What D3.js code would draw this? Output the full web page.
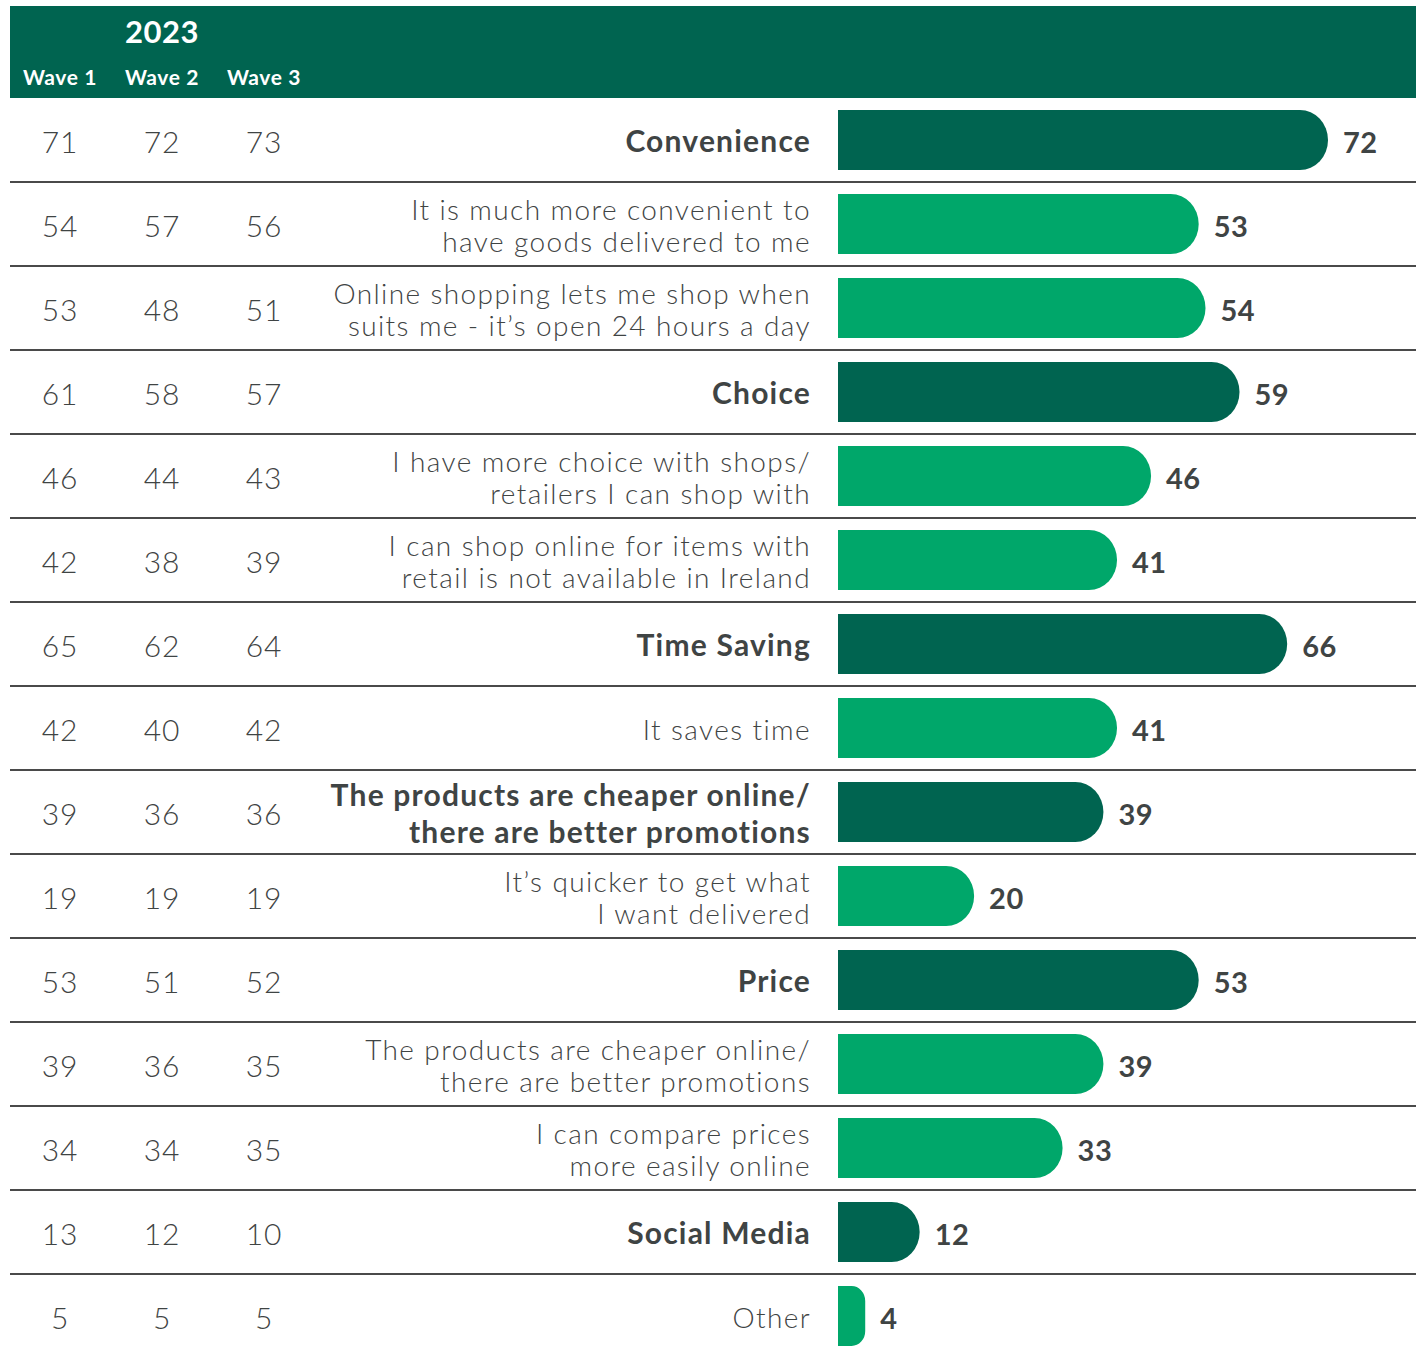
<!DOCTYPE html>
<html>
<head>
<meta charset="utf-8">
<script src="https://cdn.jsdelivr.net/npm/d3@7"></script>
<style>
  body { margin: 0; background: #fff; }
  svg { display: block; }
</style>
</head>
<body>
<div id="chart"></div>
<script>
// data
var labels = [
  ["Convenience"],
  ["It is much more convenient to", "have goods delivered to me"],
  ["Online shopping lets me shop when", "suits me - it\u2019s open 24 hours a day"],
  ["Choice"],
  ["I have more choice with shops/", "retailers I can shop with"],
  ["I can shop online for items with", "retail is not available in Ireland"],
  ["Time Saving"],
  ["It saves time"],
  ["The products are cheaper online/", "there are better promotions"],
  ["It\u2019s quicker to get what", "I want delivered"],
  ["Price"],
  ["The products are cheaper online/", "there are better promotions"],
  ["I can compare prices", "more easily online"],
  ["Social Media"],
  ["Other"]
];
var isMain = [true, false, false, true, false, false, true, false, true, false, true, false, false, true, false];
var wave1 = [71, 54, 53, 61, 46, 42, 65, 42, 39, 19, 53, 39, 34, 13, 5];
var wave2 = [72, 57, 48, 58, 44, 38, 62, 40, 36, 19, 51, 36, 34, 12, 5];
var wave3 = [73, 56, 51, 57, 43, 39, 64, 42, 36, 19, 52, 35, 35, 10, 5];
var current = [72, 53, 54, 59, 46, 41, 66, 41, 39, 20, 53, 39, 33, 12, 4];
var waveNames = ["Wave 1", "Wave 2", "Wave 3"];
var yearLabel = "2023";

var svgWidth = 1420, svgHeight = 1350;
var darkGreen = "#006450", lightGreen = "#00a76a", textCol = "#3f4444";
var font = "Lato, 'Open Sans', sans-serif";

var svg = d3.select("#chart").append("svg")
  .attr("width", svgWidth)
  .attr("height", svgHeight)
  .style("font-family", font);

// header band
svg.append("rect")
  .attr("x", 10).attr("y", 6)
  .attr("width", 1406).attr("height", 92)
  .attr("fill", darkGreen);

var waveX = d3.scalePoint().domain(waveNames).range([60, 264]);

svg.append("text")
  .attr("x", waveX("Wave 2")).attr("y", 43)
  .attr("text-anchor", "middle")
  .attr("fill", "#fff")
  .attr("font-size", 31).attr("font-weight", 700)
  .attr("letter-spacing", 0.5)
  .text(yearLabel);

svg.selectAll(".waveHead").data(waveNames).enter().append("text")
  .attr("class", "waveHead")
  .attr("x", function(d) { return waveX(d); })
  .attr("y", 85)
  .attr("text-anchor", "middle")
  .attr("fill", "#fff")
  .attr("font-size", 21).attr("font-weight", 700)
  .attr("letter-spacing", 0.6)
  .text(function(d) { return d; });

// rows
var idx = d3.range(labels.length);
var y = d3.scaleBand().domain(idx).range([98, 98 + 84 * labels.length]).padding(0);
var x = d3.scaleLinear().domain([0, 72]).range([838, 1328]);

var rows = svg.selectAll(".row").data(idx).enter().append("g")
  .attr("class", "row")
  .attr("transform", function(i) { return "translate(0," + y(i) + ")"; });

var bh = y.bandwidth();

// separator lines
rows.filter(function(i) { return i > 0; }).append("line")
  .attr("x1", 10).attr("x2", 1416)
  .attr("y1", 0).attr("y2", 0)
  .attr("stroke", "#4a4a4a").attr("stroke-width", 2);

// wave values
[wave1, wave2, wave3].forEach(function(arr, k) {
  rows.append("text")
    .attr("x", waveX(waveNames[k]))
    .attr("y", bh / 2 + 13)
    .attr("text-anchor", "middle")
    .attr("fill", textCol)
    .attr("font-size", 30).attr("font-weight", 300)
    .attr("letter-spacing", 0.8)
    .text(function(i) { return arr[i]; });
});

// labels
rows.each(function(i) {
  var g = d3.select(this);
  var lines = labels[i];
  var main = isMain[i];
  var lh = main ? 37 : 32;
  var fs = main ? 30 : 28;
  var t = g.append("text")
    .attr("text-anchor", "end")
    .attr("fill", textCol)
    .attr("font-size", fs)
    .attr("font-weight", main ? 700 : 300)
    .attr("letter-spacing", main ? 1.2 : 1.4);
  lines.forEach(function(l, j) {
    t.append("tspan")
      .attr("x", 811)
      .attr("y", bh / 2 + 12 + (j - (lines.length - 1) / 2) * lh)
      .text(l);
  });
});

// bars with rounded right end
function barPath(w) {
  var top = 12, h = 60;
  var rx = Math.min(28, w / 2), ry = Math.min(h / 2, rx * 1.1);
  var x0 = x(0);
  return "M" + x0 + "," + top +
    "H" + (x0 + w - rx) +
    "A" + rx + "," + ry + " 0 0 1 " + (x0 + w) + "," + (top + ry) +
    "V" + (top + h - ry) +
    "A" + rx + "," + ry + " 0 0 1 " + (x0 + w - rx) + "," + (top + h) +
    "H" + x0 + "Z";
}

rows.append("path")
  .attr("d", function(i) { return barPath(x(current[i]) - x(0)); })
  .attr("fill", function(i) { return isMain[i] ? darkGreen : lightGreen; });

rows.append("text")
  .attr("x", function(i) { return x(current[i]) + 15; })
  .attr("y", bh / 2 + 13)
  .attr("fill", textCol)
  .attr("font-size", 29).attr("font-weight", 700)
  .attr("letter-spacing", 0.5)
  .text(function(i) { return current[i]; });
</script>
</body>
</html>
